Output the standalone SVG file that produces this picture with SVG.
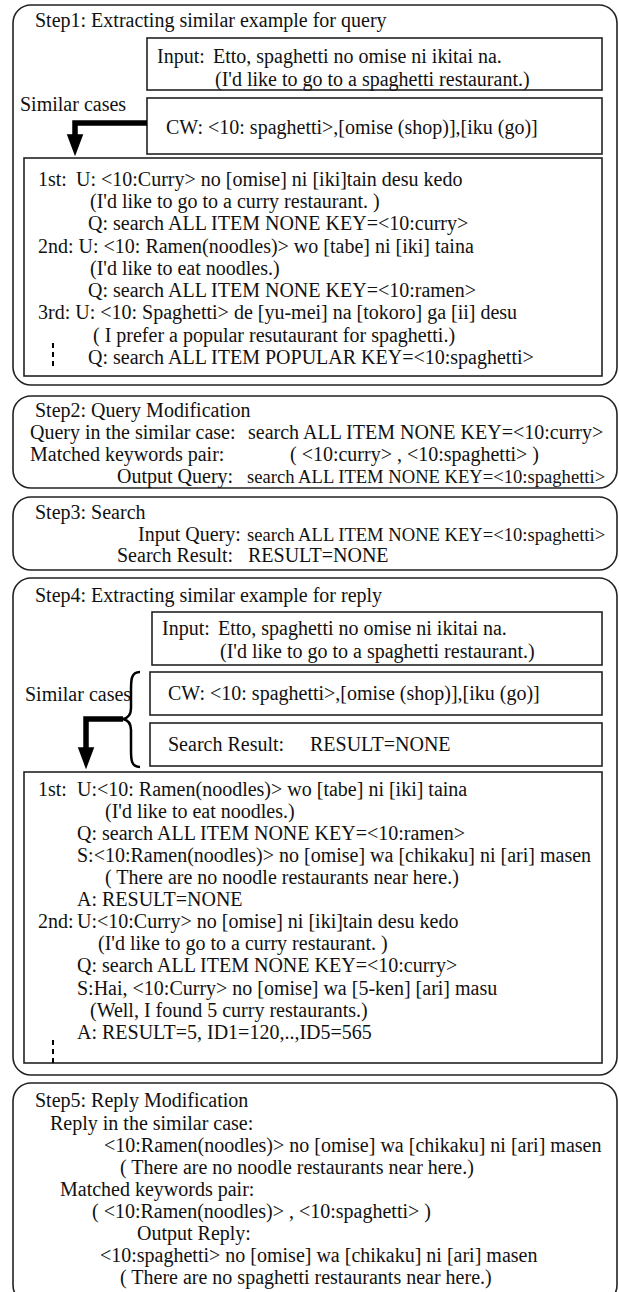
<svg xmlns="http://www.w3.org/2000/svg" width="619" height="1292" viewBox="0 0 619 1292">
<style>
text{font-family:"Liberation Serif","Times New Roman",serif;font-size:20px;fill:#111}
text.narrow{font-size:18.6px}
.step{fill:#fff;stroke:#222;stroke-width:1.6}
.box{fill:#fff;stroke:#222;stroke-width:1.6}
.thick{fill:none;stroke:#000;stroke-width:5.5}
.dots{stroke:#000;stroke-width:2;stroke-dasharray:5 4}
</style>
<defs>
<marker id="ah" markerWidth="4" markerHeight="4" refX="0.5" refY="1.5" orient="auto" markerUnits="strokeWidth" viewBox="0 0 4 3">
<path d="M0,0 L4,1.5 L0,3 Z" fill="#000"/>
</marker>
</defs>
<g id="step1">
<rect class="step" x="13" y="5" width="604" height="380" rx="18"/>
<text x="35" y="27">Step1: Extracting similar example for query</text>
<g id="s1-input">
<rect class="box" x="147" y="38" width="455" height="52"/>
<text x="157" y="63">Input:</text><text x="213" y="63">Etto, spaghetti no omise ni ikitai na.</text>
<text x="215" y="86">(I'd like to go to a spaghetti restaurant.)</text>
</g>
<text x="20" y="111">Similar cases</text>
<g id="s1-cw">
<rect class="box" x="147" y="98" width="455" height="56"/>
<text x="166" y="134">CW: &lt;10: spaghetti&gt;,[omise (shop)],[iku (go)]</text>
</g>
<g id="s1-list">
<rect class="box" x="24" y="158" width="578" height="218"/>
<text x="38" y="186">1st:</text><text x="76" y="186">U: &lt;10:Curry&gt; no [omise] ni [iki]tain desu kedo</text>
<text x="90" y="208">(I'd like to go to a curry restaurant. )</text>
<text x="88" y="230">Q: search ALL ITEM NONE KEY=&lt;10:curry&gt;</text>
<text x="38" y="253">2nd: U: &lt;10: Ramen(noodles)&gt; wo [tabe] ni [iki] taina</text>
<text x="90" y="275">(I'd like to eat noodles.)</text>
<text x="88" y="297">Q: search ALL ITEM NONE KEY=&lt;10:ramen&gt;</text>
<text x="38" y="319">3rd: U: &lt;10: Spaghetti&gt; de [yu-mei] na [tokoro] ga [ii] desu</text>
<text x="93" y="342">( I prefer a popular resutaurant for spaghetti.)</text>
<text x="88" y="364">Q: search ALL ITEM POPULAR KEY=&lt;10:spaghetti&gt;</text>
<line class="dots" x1="53" y1="343" x2="53" y2="369"/>
</g>
</g>
<g id="step2">
<rect class="step" x="13" y="396" width="604" height="92" rx="18"/>
<text x="35" y="417">Step2: Query Modification</text>
<text x="30" y="439">Query in the similar case:</text><text x="248" y="439">search ALL ITEM NONE KEY=&lt;10:curry&gt;</text>
<text x="30" y="461">Matched keywords pair:</text><text x="290" y="461">( &lt;10:curry&gt; , &lt;10:spaghetti&gt; )</text>
<text x="117" y="483">Output Query:</text><text class="narrow" x="247" y="483">search ALL ITEM NONE KEY=&lt;10:spaghetti&gt;</text>
</g>
<g id="step3">
<rect class="step" x="13" y="497" width="604" height="73" rx="18"/>
<text x="35" y="519">Step3: Search</text>
<text x="138" y="541">Input Query:</text><text class="narrow" x="247" y="541">search ALL ITEM NONE KEY=&lt;10:spaghetti&gt;</text>
<text x="117" y="562">Search Result:</text><text x="248" y="562">RESULT=NONE</text>
</g>
<g id="step4">
<rect class="step" x="13" y="578" width="604" height="497" rx="18"/>
<text x="35" y="602">Step4: Extracting similar example for reply</text>
<g id="s4-input">
<rect class="box" x="152" y="612" width="450" height="53"/>
<text x="162" y="635">Input:</text><text x="218" y="635">Etto, spaghetti no omise ni ikitai na.</text>
<text x="220" y="658">(I'd like to go to a spaghetti restaurant.)</text>
</g>
<text x="25" y="701">Similar cases</text>
<g id="s4-cw">
<rect class="box" x="150" y="672" width="452" height="43"/>
<text x="168" y="700">CW: &lt;10: spaghetti&gt;,[omise (shop)],[iku (go)]</text>
</g>
<g id="s4-sr">
<rect class="box" x="150" y="723" width="452" height="43"/>
<text x="168" y="751">Search Result:</text><text x="310" y="751">RESULT=NONE</text>
</g>
<g id="s4-list">
<rect class="box" x="24" y="772" width="578" height="291"/>
<text x="38" y="796">1st:</text><text x="77" y="796">U:&lt;10: Ramen(noodles)&gt; wo [tabe] ni [iki] taina</text>
<text x="105" y="818">(I'd like to eat noodles.)</text>
<text x="77" y="840">Q: search ALL ITEM NONE KEY=&lt;10:ramen&gt;</text>
<text x="77" y="862">S:&lt;10:Ramen(noodles)&gt; no [omise] wa [chikaku] ni [ari] masen</text>
<text x="105" y="884">( There are no noodle restaurants near here.)</text>
<text x="77" y="906">A: RESULT=NONE</text>
<text x="38" y="928">2nd:</text><text x="77" y="928">U:&lt;10:Curry&gt; no [omise] ni [iki]tain desu kedo</text>
<text x="98" y="950">(I'd like to go to a curry restaurant. )</text>
<text x="77" y="972">Q: search ALL ITEM NONE KEY=&lt;10:curry&gt;</text>
<text x="77" y="995">S:Hai, &lt;10:Curry&gt; no [omise] wa [5-ken] [ari] masu</text>
<text x="90" y="1017">(Well, I found 5 curry restaurants.)</text>
<text x="77" y="1039">A: RESULT=5, ID1=120,..,ID5=565</text>
<line class="dots" x1="53" y1="1040" x2="53" y2="1063"/>
</g>
</g>
<g id="step5">
<rect class="step" x="13" y="1083" width="604" height="220" rx="18"/>
<text x="35" y="1107">Step5: Reply Modification</text>
<text x="50" y="1130">Reply in the similar case:</text>
<text x="104" y="1152">&lt;10:Ramen(noodles)&gt; no [omise] wa [chikaku] ni [ari] masen</text>
<text x="120" y="1174">( There are no noodle restaurants near here.)</text>
<text x="60" y="1196">Matched keywords pair:</text>
<text x="92" y="1218">( &lt;10:Ramen(noodles)&gt; , &lt;10:spaghetti&gt; )</text>
<text x="137" y="1240">Output Reply:</text>
<text x="100" y="1262">&lt;10:spaghetti&gt; no [omise] wa [chikaku] ni [ari] masen</text>
<text x="120" y="1284">( There are no spaghetti restaurants near here.)</text>
</g>
<g id="connectors">
<path class="thick" d="M147,123 H75 V137" marker-end="url(#ah)"/>
<path d="M140,672 C131,672 131,680 131,690 L131,708 C131,715 128,718 123,719 C128,720 131,723 131,730 L131,750 C131,759 131,767 140,767" fill="none" stroke="#000" stroke-width="2.5"/>
<path class="thick" d="M123,719 H86 V750" marker-end="url(#ah)"/>
</g>
</svg>
